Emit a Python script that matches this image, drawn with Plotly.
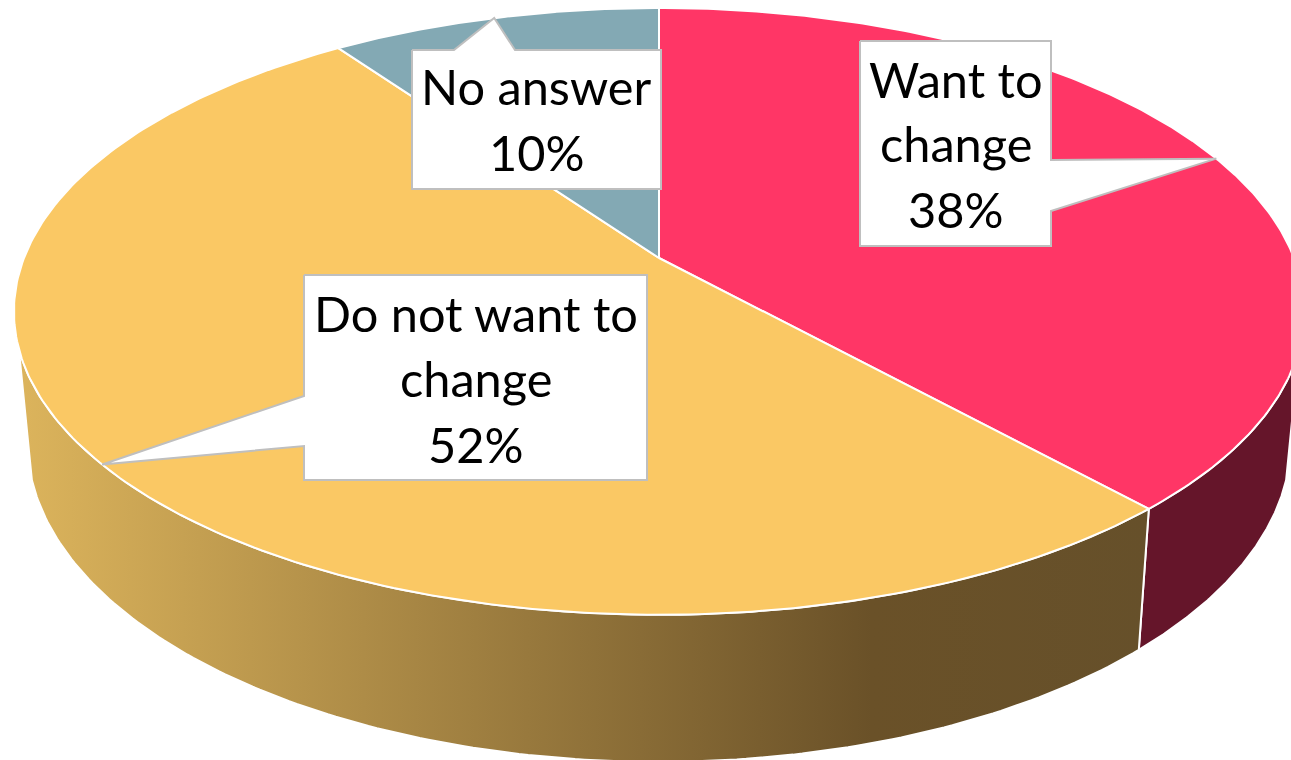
import numpy as np
import plotly.graph_objects as go

# --- data ---
categories = ["Want to change", "Do not want to change", "No answer"]
shares = [38.3, 51.9, 9.8]
label_lines = [["Want to", "change"], ["Do not want to", "change"], ["No answer"]]

# --- style ---
top_colors = ["#FF3666", "#FAC864", "#83A9B4"]
wall_fill = ["#65152A", None, None]
wall_scale = [[0, "#DCB45C"], [0.755, "#6A5128"], [1, "#66502A"]]
BORDER = "#BFBFBF"
FONT = "Lato"
FONT_SIZE = 48.7

# --- perspective pie geometry (pixel space) ---
CX, K = 659.0, 0.176
TOP = dict(y0=258.0, a=635.0, b=294.0)
BOTTOM = dict(y0=384.5, a=622.0, b=311.0)
SIL = (107.0, 253.0)  # visible part of the wall, degrees clockwise from 12 o'clock


def project(theta_deg, disc):
    t = np.radians(theta_deg)
    w = 1 + K * np.cos(t)
    return CX + disc["a"] * np.sin(t) / w, disc["y0"] - disc["b"] * np.cos(t) / w


# --- callouts: text boxes (left, top, right, bottom), pointer base along a side, line baselines ---
boxes = [(860, 41, 1051, 246), (304, 275, 647, 480), (412, 50, 661, 189)]
pointer_base = [("right", 160, 211), ("left", 396, 446), ("top", 454, 515)]
baselines = [[96, 160, 226], [330, 395, 461], [103, 169]]
BASE_TO_MID = 17

edges = np.cumsum([0] + shares) * 3.6
fig = go.Figure()

# walls
for i in range(len(shares)):
    lo, hi = max(edges[i], SIL[0]), min(edges[i + 1], SIL[1])
    if hi <= lo:
        continue
    th = np.linspace(lo, hi, 160)
    xt, yt = project(th, TOP)
    xb, yb = project(th[::-1], BOTTOM)
    tr = dict(x=np.r_[xt, xb, xt[0]], y=np.r_[yt, yb, yt[0]], mode="lines", fill="toself",
              line=dict(color="white", width=2), hoverinfo="skip", showlegend=False)
    if wall_fill[i]:
        tr["fillcolor"] = wall_fill[i]
    else:
        tr["fillgradient"] = dict(type="horizontal", colorscale=wall_scale)
    fig.add_trace(go.Scatter(**tr))

# top slices
for i, name in enumerate(categories):
    th = np.linspace(edges[i], edges[i + 1], 240)
    x, y = project(th, TOP)
    ax, ay = project(0, dict(TOP, a=0, b=0))
    fig.add_trace(go.Scatter(x=np.r_[ax, x, ax], y=np.r_[ay, y, ay], mode="lines", fill="toself",
                             fillcolor=top_colors[i], line=dict(color="white", width=2),
                             name=name, hoverinfo="name", showlegend=False))

# callouts
for i, ((l, t, r, b), (side, p0, p1)) in enumerate(zip(boxes, pointer_base)):
    tx, ty = project((edges[i] + edges[i + 1]) / 2, TOP)
    if side == "right":
        px, py = [l, r, r, tx, r, r, l, l], [t, t, p0, ty, p1, b, b, t]
    elif side == "left":
        px, py = [l, r, r, l, l, tx, l, l], [t, t, b, b, p1, ty, p0, t]
    else:
        px, py = [l, p0, tx, p1, r, r, l, l], [t, t, ty, t, t, b, b, t]
    fig.add_trace(go.Scatter(x=px, y=py, mode="lines", fill="toself", fillcolor="white",
                             line=dict(color=BORDER, width=2), hoverinfo="skip", showlegend=False))
    lines = label_lines[i] + [f"{round(shares[i])}%"]
    for text, base in zip(lines, baselines[i]):
        fig.add_annotation(x=(l + r) / 2, y=base - BASE_TO_MID, text=text, showarrow=False,
                           xanchor="center", yanchor="middle",
                           font=dict(family=FONT, size=FONT_SIZE, color="black"))

fig.update_layout(width=1291, height=760, margin=dict(l=0, r=0, t=0, b=0),
                  paper_bgcolor="white", plot_bgcolor="white", showlegend=False,
                  xaxis=dict(range=[0, 1291], visible=False, fixedrange=True),
                  yaxis=dict(range=[760, 0], visible=False, fixedrange=True))
fig.write_html("out.html", config={"displayModeBar": False},
               post_script="document.body.style.margin='0';document.body.style.overflow='hidden';")
